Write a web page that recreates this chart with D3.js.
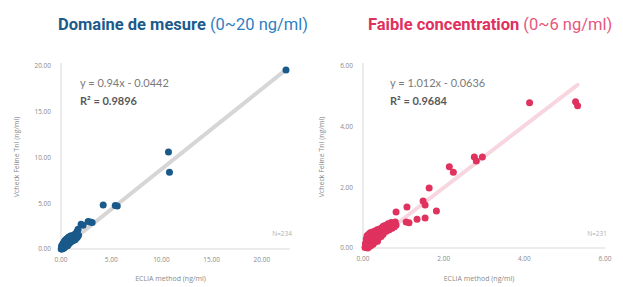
<!DOCTYPE html>
<html><head><meta charset="utf-8">
<script src="https://cdn.jsdelivr.net/npm/d3@7"></script>
<style>body{margin:0;background:#fff}svg{display:block}</style>
</head><body>
<svg id="c" width="623" height="287"></svg>
<script>
// ---- data ----
const leftTicksX = [0, 5, 10, 15, 20];
const leftTicksY = [0, 5, 10, 15, 20];
const rightTicksX = [0, 2, 4, 6];
const rightTicksY = [0, 2, 4, 6];

const leftPoints = [
 [0.02,0.0],[0.05,0.3],[0.08,0.1],[0.1,0.0],[0.12,0.45],[0.15,0.08],[0.18,0.25],[0.2,0.6],[0.22,0.05],
 [0.25,0.35],[0.28,0.7],[0.3,0.15],[0.33,0.5],[0.35,0.85],[0.38,0.2],[0.4,0.55],[0.42,0.95],[0.45,0.3],
 [0.48,0.75],[0.5,1.05],[0.52,0.4],[0.55,0.7],[0.58,1.1],[0.6,0.5],[0.62,0.85],[0.65,0.35],[0.68,1.2],
 [0.7,0.75],[0.72,0.5],[0.75,1.0],[0.78,1.3],[0.8,0.6],[0.85,0.95],[0.88,1.35],[0.9,0.7],[0.95,1.1],
 [1.0,1.45],[1.0,0.8],[1.05,1.0],[1.1,1.4],[1.15,0.9],[1.2,1.3],[1.25,0.95],[1.3,1.55],[1.35,1.2],
 [1.4,1.0],[1.45,1.4],[1.5,1.7],[1.55,1.2],[1.6,1.9],[1.65,1.35],[1.7,2.15],[1.75,1.5],
 [2.0,2.7],[2.2,2.6],[2.7,3.0],[2.9,2.95],[3.1,2.9],[4.2,4.8],[5.4,4.75],[5.6,4.7],
 [10.7,10.6],[10.8,8.4],[22.4,19.56]
];
const rightPoints = [
 [0.05,0.02],[0.06,0.15],[0.08,0.3],[0.08,0.05],[0.1,0.4],[0.1,0.12],[0.12,0.0],[0.12,0.25],[0.14,0.45],
 [0.15,0.15],[0.16,0.05],[0.18,0.3],[0.18,0.5],[0.2,0.18],[0.2,0.08],[0.22,0.35],[0.22,0.52],[0.25,0.25],
 [0.25,0.12],[0.28,0.4],[0.28,0.55],[0.3,0.2],[0.32,0.45],[0.33,0.3],[0.35,0.6],[0.36,0.22],[0.38,0.45],
 [0.4,0.35],[0.4,0.62],[0.42,0.5],[0.45,0.65],[0.45,0.38],[0.48,0.55],[0.5,0.72],[0.5,0.45],[0.52,0.6],
 [0.55,0.74],[0.58,0.55],[0.6,0.68],[0.62,0.8],[0.65,0.6],[0.68,0.72],[0.7,0.84],[0.72,0.65],[0.75,0.78],
 [0.78,0.7],[0.8,0.86],[0.82,0.76],
 [0.82,1.19],[1.07,0.86],[1.14,0.83],[1.09,1.35],[1.34,0.95],[1.54,0.99],[1.49,1.55],[1.54,1.42],
 [1.82,1.22],[1.64,1.98],[2.14,2.68],[2.24,2.5],[2.76,3.0],[2.81,2.87],[2.96,3.0],[4.13,4.79],
 [5.27,4.82],[5.32,4.69]
];
const leftTrend = [[0.05,0.0],[22.4,19.6]];
const rightTrend = [[0.1,0.04],[5.32,5.38]];

const panels = [
 {title:"Domaine de mesure", sub:" (0~20 ng/ml)", tc:"#1b5b8c", sc:"#2f80c2",
  eq:"y = 0.94x - 0.0442", r2:"R² = 0.9896", n:"N=234",
  pts:leftPoints, trend:leftTrend, tx:leftTicksX, ty:leftTicksY,
  xd:[0,22.8], xr:[61,290], yd:[0,20], yr:[249,66], yTop:63,
  col:"#1a5a8a", trendCol:"#d6d6d6", titleX:58, eqX:80, ytX:19},
 {title:"Faible concentration", sub:" (0~6 ng/ml)", tc:"#e0305e", sc:"#e8567c",
  eq:"y = 1.012x - 0.0636", r2:"R² = 0.9684", n:"N=231",
  pts:rightPoints, trend:rightTrend, tx:rightTicksX, ty:rightTicksY,
  xd:[0,6], xr:[363,605], yd:[0,6], yr:[248,66], yTop:63,
  col:"#e0325f", trendCol:"#f8d6df", titleX:368, eqX:390, ytX:324}
];

const svg = d3.select("#c");
panels.forEach(p=>{
  const x = d3.scaleLinear().domain(p.xd).range(p.xr);
  const y = d3.scaleLinear().domain(p.yd).range(p.yr);
  const g = svg.append("g");
  // title
  const t = g.append("text").attr("x",p.titleX).attr("y",30)
    .style("font-family","Roboto, 'Liberation Sans', sans-serif").style("font-size","16.5px");
  t.append("tspan").text(p.title).attr("fill",p.tc).style("font-weight","bold");
  t.append("tspan").text(p.sub).attr("fill",p.sc);
  // axes lines
  g.append("line").attr("x1",x.range()[0]).attr("x2",x.range()[1]).attr("y1",y(0)).attr("y2",y(0))
    .attr("stroke","#d9d9d9").attr("stroke-width",1);
  g.append("line").attr("x1",x(0)).attr("x2",x(0)).attr("y1",y(0)).attr("y2",p.yTop)
    .attr("stroke","#d9d9d9").attr("stroke-width",1);
  // tick labels
  const tf = "'Open Sans', sans-serif";
  g.selectAll(".tx").data(p.tx).enter().append("text")
    .attr("x",d=>x(d)).attr("y",y(0)+13).attr("text-anchor","middle")
    .style("font-family",tf).style("font-size","6.5px").attr("fill","#8a8a8a")
    .text(d=>d.toFixed(2));
  g.selectAll(".ty").data(p.ty).enter().append("text")
    .attr("x",x(0)-10).attr("y",d=>y(d)+2.3).attr("text-anchor","end")
    .style("font-family",tf).style("font-size","6.5px").attr("fill","#8a8a8a")
    .text(d=>d.toFixed(2));
  // axis titles
  g.append("text").attr("x",(x.range()[0]+x.range()[1])/2-5).attr("y",281).attr("text-anchor","middle")
    .style("font-family",tf).style("font-size","7px").attr("fill","#8a8a8a").text("ECLIA method (ng/ml)");
  g.append("text").attr("transform",`translate(${p.ytX},157) rotate(-90)`).attr("text-anchor","middle")
    .style("font-family",tf).style("font-size","7px").attr("fill","#8a8a8a").text("Vcheck Feline TnI (ng/ml)");
  // trend
  g.append("line").attr("x1",x(p.trend[0][0])).attr("y1",y(p.trend[0][1]))
    .attr("x2",x(p.trend[1][0])).attr("y2",y(p.trend[1][1]))
    .attr("stroke",p.trendCol).attr("stroke-width",4).attr("stroke-linecap","round");
  // points
  g.selectAll("circle").data(p.pts).enter().append("circle")
    .attr("cx",d=>x(d[0])).attr("cy",d=>y(d[1])).attr("r",3.5).attr("fill",p.col);
  // equation
  g.append("text").attr("x",p.eqX).attr("y",87).style("font-family","Lato, sans-serif")
    .style("font-size","11px").attr("fill","#7a7a7a").text(p.eq);
  g.append("text").attr("x",p.eqX).attr("y",105).style("font-family","Lato, sans-serif")
    .style("font-size","11px").style("font-weight","bold").attr("fill","#5a5a5a").text(p.r2);
  // N
  g.append("text").attr("x",x.range()[1]+2).attr("y",236).attr("text-anchor","end")
    .style("font-family",tf).style("font-size","6.5px").attr("fill","#b0b0b0").text(p.n);
});
</script>
</body></html>
